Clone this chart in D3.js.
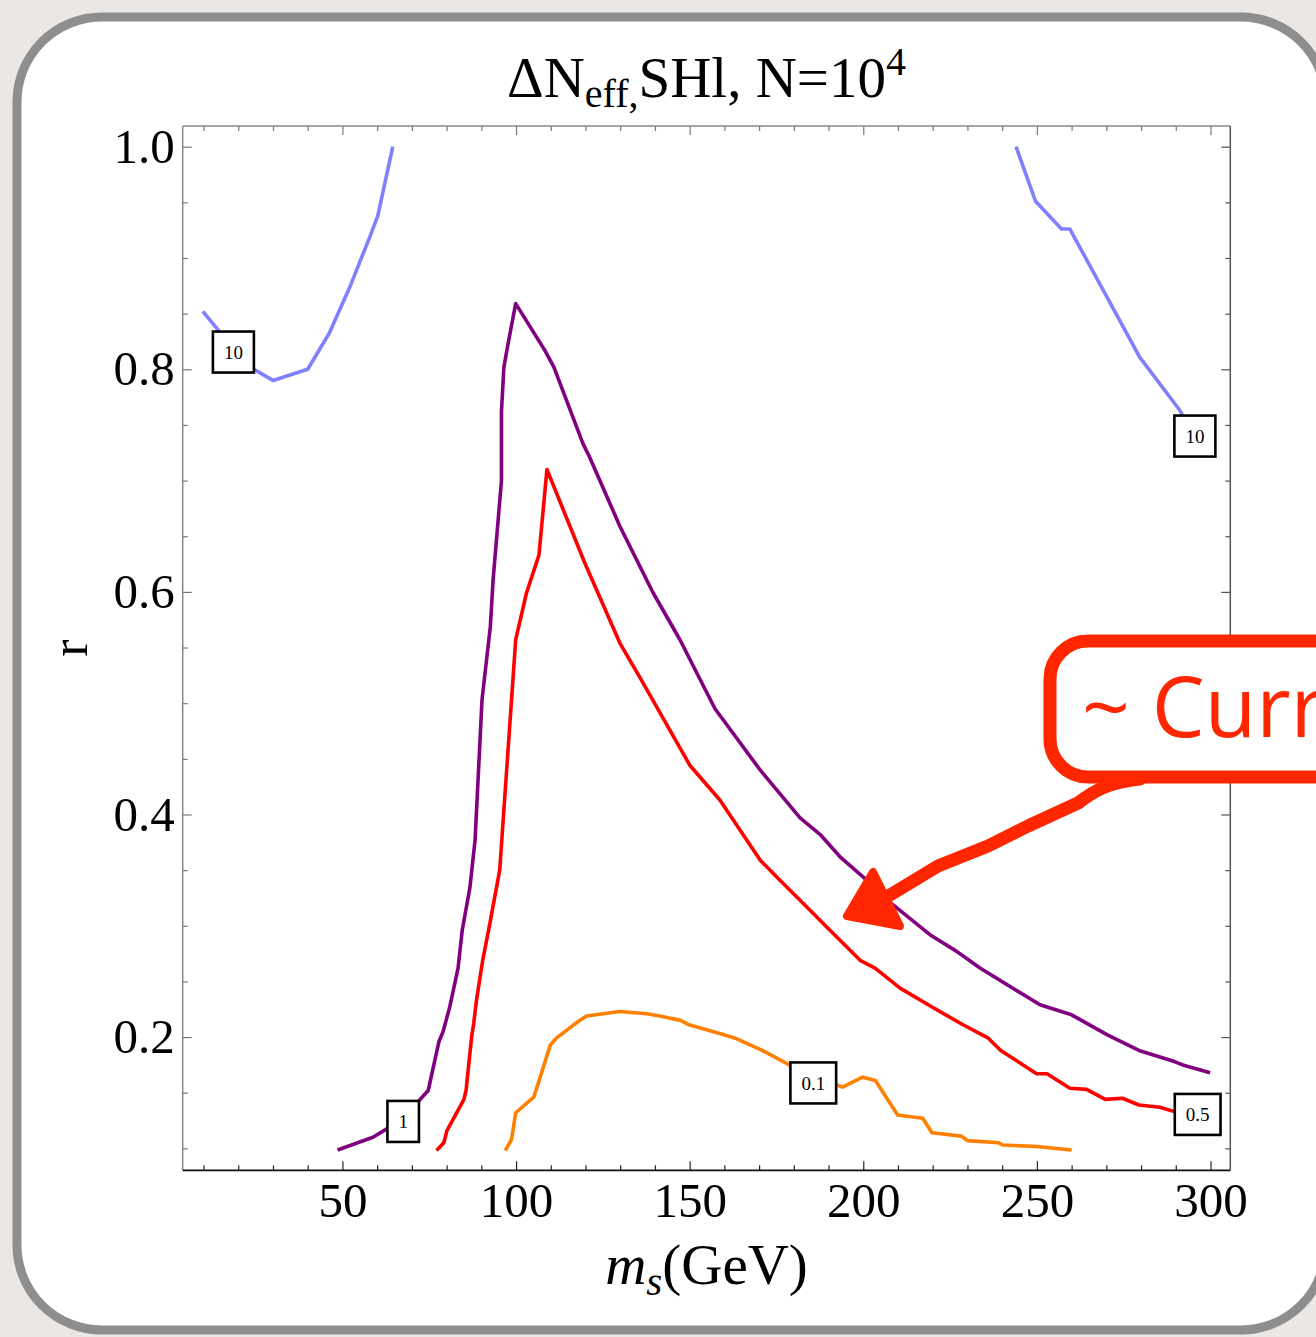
<!DOCTYPE html>
<html>
<head>
<meta charset="utf-8">
<script src="https://cdn.jsdelivr.net/npm/d3@7"></script>
<style>
  html, body { margin: 0; padding: 0; background: #ebe8e5; overflow: hidden; }
  svg { display: block; }
</style>
</head>
<body>
<div id="chart"></div>
<script>
// Contour lines of Delta N_eff: [m_s (GeV), r]
const contour10Left = [[9.8, 0.852], [14, 0.836], [20, 0.812], [24.5, 0.800], [30, 0.790], [40, 0.800],
    [46.3, 0.833], [52, 0.873], [57.9, 0.919], [60.2, 0.938], [64.5, 1.0]];
const contour10Right = [[244, 1.0], [249.6, 0.951], [257.1, 0.926], [259.5, 0.926], [279.6, 0.811],
    [291.2, 0.763], [296, 0.735]];
const contour1 = [[48.6, 0.0985], [58.8, 0.110], [63, 0.118], [71.8, 0.142], [74.7, 0.152], [77.8, 0.196],
    [79, 0.205], [80.9, 0.227], [83.3, 0.262], [84.5, 0.296], [86.7, 0.334], [88.2, 0.377], [90.2, 0.503],
    [92.6, 0.569], [93.4, 0.611], [95.8, 0.70], [95.8, 0.762], [96.5, 0.802], [97.7, 0.823], [99.9, 0.859],
    [108.3, 0.817], [110.9, 0.802], [119.3, 0.733], [121.2, 0.721], [129.9, 0.659], [139.5, 0.599],
    [147.2, 0.557], [157.3, 0.495], [170.3, 0.440], [181.8, 0.397], [187.6, 0.382], [193.3, 0.362],
    [201, 0.341], [207.7, 0.321], [219.2, 0.292], [226.9, 0.277], [233.6, 0.262], [250.9, 0.229],
    [260, 0.220], [270.3, 0.202], [279.4, 0.188], [289.6, 0.178], [292, 0.175], [299.9, 0.168]];
const contour05 = [[77.1, 0.098], [79.2, 0.105], [80.1, 0.116], [85, 0.144], [85.6, 0.152], [87.2, 0.200],
    [87.8, 0.212], [88.6, 0.233], [90.4, 0.269], [92.4, 0.301], [95.3, 0.350], [99.1, 0.521], [99.9, 0.557],
    [103, 0.599], [106.6, 0.633], [108.9, 0.710], [119.8, 0.626], [129.9, 0.554], [135.7, 0.523],
    [150.1, 0.444], [158.7, 0.413], [170.3, 0.359], [176, 0.341], [181.8, 0.323], [190.4, 0.296],
    [199.1, 0.269], [203.4, 0.262], [210.6, 0.244], [219.8, 0.227], [228.2, 0.212], [236, 0.199],
    [239.6, 0.188], [249.9, 0.167], [252.9, 0.167], [259.5, 0.154], [264.3, 0.153], [269.7, 0.144],
    [274.6, 0.145], [279.4, 0.139], [285.4, 0.137], [289.6, 0.133], [296, 0.130]];
const contour01 = [[96.9, 0.098], [98.7, 0.108], [99.9, 0.132], [105.1, 0.146], [109.9, 0.193],
    [111.6, 0.199], [117.9, 0.214], [120.3, 0.219], [129.9, 0.223], [137.6, 0.221], [141.4, 0.219],
    [147.4, 0.215], [149.8, 0.211], [158.9, 0.203], [163.1, 0.199], [170.9, 0.188], [178.7, 0.175],
    [185.6, 0.165], [194, 0.155], [199.8, 0.164], [203.5, 0.161], [209.9, 0.130], [217.1, 0.127],
    [219.8, 0.114], [228.2, 0.111], [230, 0.107], [239, 0.105], [240.2, 0.103], [249.9, 0.1017], [260, 0.0985]];

const curves = [contour10Left, contour10Right, contour1, contour05, contour01];
const curveColors = ["#8080ff", "#8080ff", "#800080", "#ff0000", "#ff8000"];

// contour labels (text + where it sits on the curve)
const labelText = ["10", "10", "1", "0.1", "0.5"];
const labelMs = [18.6, 295.5, 67.5, 185.6, 296.3];
const labelR = [0.8155, 0.740, 0.1242, 0.1588, 0.1305];

const xTicks = [50, 100, 150, 200, 250, 300];
const yTicks = [0.2, 0.4, 0.6, 0.8, 1.0];
const xMinor = d3.range(10, 301, 10).filter(v => v % 50 !== 0);
const yMinor = d3.range(2, 21).map(v => v * 0.05).filter(v => Math.abs(v * 5 - Math.round(v * 5)) > 1e-6);

const W = 1316, H = 1337;
const frameL = 182.7, frameR = 1230.3, frameT = 126, frameB = 1170.3;

const svg = d3.select("#chart")
    .append("svg")
    .attr("width", W)
    .attr("height", H);

svg.append("rect").attr("width", W).attr("height", H).attr("fill", "#eae7e4");

// slide card (its right edge runs off the picture)
svg.append("rect")
    .attr("x", 17).attr("y", 17)
    .attr("width", 1309).attr("height", 1313)
    .attr("rx", 85).attr("ry", 85)
    .attr("fill", "#ffffff")
    .attr("stroke", "#8e8e8e")
    .attr("stroke-width", 9);

const xScale = d3.scaleLinear().domain([4, 305.7]).range([frameL, frameR]);
const yScale = d3.scaleLinear().domain([0.0803, 1.0186]).range([frameB, frameT]);

const serif = "'Liberation Serif', 'Times New Roman', serif";

// ticks (pointing inward like Mathematica frames)
function styleAxis(g, color) {
    g.select(".domain").remove();
    g.selectAll("line").attr("stroke", color).attr("stroke-width", 1.2);
    g.selectAll("text").attr("font-family", serif).attr("font-size", 49).attr("fill", "#000");
}

svg.append("g").attr("transform", `translate(0,${frameB})`)
    .call(d3.axisBottom(xScale).tickValues(xTicks).tickSizeInner(-9).tickSizeOuter(0).tickPadding(12))
    .call(g => styleAxis(g, "#222"));
svg.append("g").attr("transform", `translate(0,${frameB})`)
    .call(d3.axisBottom(xScale).tickValues(xMinor).tickSizeInner(-5).tickSizeOuter(0).tickFormat(""))
    .call(g => styleAxis(g, "#222"));
svg.append("g").attr("transform", `translate(0,${frameT})`)
    .call(d3.axisTop(xScale).tickValues(xTicks).tickSizeInner(-9).tickSizeOuter(0).tickFormat(""))
    .call(g => styleAxis(g, "#777"));
svg.append("g").attr("transform", `translate(0,${frameT})`)
    .call(d3.axisTop(xScale).tickValues(xMinor).tickSizeInner(-5).tickSizeOuter(0).tickFormat(""))
    .call(g => styleAxis(g, "#777"));

svg.append("g").attr("transform", `translate(${frameL},0)`)
    .call(d3.axisLeft(yScale).tickValues(yTicks).tickSizeInner(-9).tickSizeOuter(0).tickPadding(8)
        .tickFormat(d3.format(".1f")))
    .call(g => styleAxis(g, "#777"));
svg.append("g").attr("transform", `translate(${frameL},0)`)
    .call(d3.axisLeft(yScale).tickValues(yMinor).tickSizeInner(-5).tickSizeOuter(0).tickFormat(""))
    .call(g => styleAxis(g, "#777"));
svg.append("g").attr("transform", `translate(${frameR},0)`)
    .call(d3.axisRight(yScale).tickValues(yTicks).tickSizeInner(-9).tickSizeOuter(0).tickFormat(""))
    .call(g => styleAxis(g, "#555"));
svg.append("g").attr("transform", `translate(${frameR},0)`)
    .call(d3.axisRight(yScale).tickValues(yMinor).tickSizeInner(-5).tickSizeOuter(0).tickFormat(""))
    .call(g => styleAxis(g, "#555"));

// frame
svg.append("line").attr("x1", frameL).attr("x2", frameR).attr("y1", frameT).attr("y2", frameT)
    .attr("stroke", "#888").attr("stroke-width", 1.5);
svg.append("line").attr("x1", frameL).attr("x2", frameL).attr("y1", frameT).attr("y2", frameB)
    .attr("stroke", "#888").attr("stroke-width", 1.5);
svg.append("line").attr("x1", frameR).attr("x2", frameR).attr("y1", frameT).attr("y2", frameB)
    .attr("stroke", "#555").attr("stroke-width", 1.5);
svg.append("line").attr("x1", frameL).attr("x2", frameR).attr("y1", frameB).attr("y2", frameB)
    .attr("stroke", "#111").attr("stroke-width", 1.8);

// contour lines
const line = d3.line().x(d => xScale(d[0])).y(d => yScale(d[1]));
svg.append("g").selectAll("path")
    .data(curves)
    .enter()
    .append("path")
    .attr("d", line)
    .attr("fill", "none")
    .attr("stroke", (d, i) => curveColors[i])
    .attr("stroke-width", 3.6)
    .attr("stroke-linejoin", "round");

// contour labels
const labels = svg.append("g").selectAll("g")
    .data(labelText)
    .enter()
    .append("g")
    .attr("transform", (d, i) => `translate(${xScale(labelMs[i])},${yScale(labelR[i])})`);
labels.append("text")
    .attr("text-anchor", "middle")
    .attr("dy", "0.35em")
    .attr("font-family", serif)
    .attr("font-size", 19)
    .text(d => d);
labels.each(function () {
    const g = d3.select(this);
    const w = g.select("text").node().getComputedTextLength();
    g.insert("rect", "text")
        .attr("x", -(w + 22) / 2).attr("y", -20.5)
        .attr("width", w + 22).attr("height", 41)
        .attr("fill", "#fff")
        .attr("stroke", "#000")
        .attr("stroke-width", 2.6);
});

// title
const title = svg.append("text")
    .attr("x", (frameL + frameR) / 2)
    .attr("y", 97)
    .attr("text-anchor", "middle")
    .attr("font-family", serif)
    .attr("font-size", 57);
title.append("tspan").text("ΔN");
title.append("tspan").attr("font-size", 40).attr("dy", 10).text("eff,");
title.append("tspan").attr("dy", -10).text("SHl, N=10");
title.append("tspan").attr("font-size", 40).attr("dy", -22).text("4");

// axis labels
const xLabel = svg.append("text")
    .attr("x", (frameL + frameR) / 2)
    .attr("y", 1284)
    .attr("text-anchor", "middle")
    .attr("font-family", serif)
    .attr("font-size", 57);
xLabel.append("tspan").attr("font-style", "italic").text("m");
xLabel.append("tspan").attr("font-style", "italic").attr("font-size", 41).attr("dy", 11).text("s");
xLabel.append("tspan").attr("dy", -11).text("(GeV)");

svg.append("text")
    .attr("transform", `translate(87,${(frameT + frameB) / 2}) rotate(-90)`)
    .attr("text-anchor", "middle")
    .attr("font-family", serif)
    .attr("font-size", 52)
    .text("r");

// hand-drawn slide annotation on top of the plot
const red = "#ff2600";
svg.append("rect")
    .attr("x", 1050).attr("y", 641)
    .attr("width", 400).attr("height", 136)
    .attr("rx", 38).attr("ry", 38)
    .attr("fill", "#fff")
    .attr("stroke", red)
    .attr("stroke-width", 13);
svg.append("text")
    .attr("x", 1082).attr("y", 737)
    .attr("font-family", "'Open Sans', 'Noto Sans', sans-serif")
    .attr("font-size", 84)
    .attr("fill", red)
    .text("~ Current");
svg.append("path")
    .attr("d", "M1140,779 C1110,782 1095,790 1078,803 L1028,826 L988,846 L938,866 L890,895")
    .attr("fill", "none")
    .attr("stroke", red)
    .attr("stroke-width", 13)
    .attr("stroke-linecap", "round")
    .attr("stroke-linejoin", "round");
svg.append("path")
    .attr("d", "M873,872 L847,916 L900,926 Z")
    .attr("fill", red)
    .attr("stroke", red)
    .attr("stroke-width", 8)
    .attr("stroke-linejoin", "round");
</script>
</body>
</html>
